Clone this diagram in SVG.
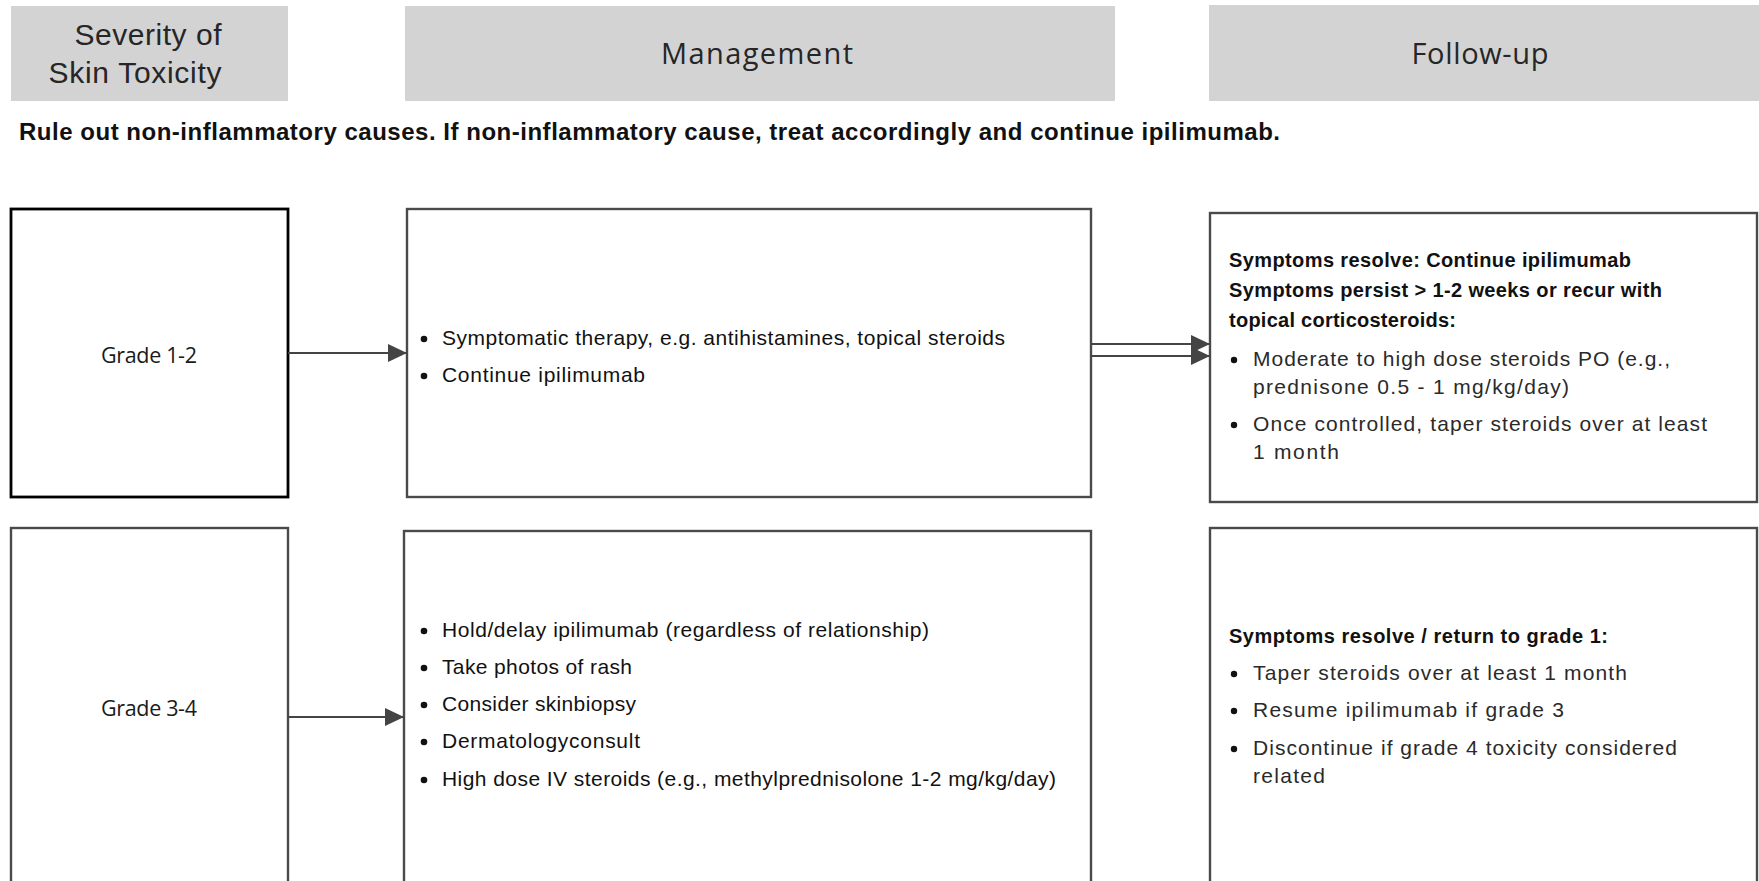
<svg xmlns="http://www.w3.org/2000/svg" width="1759" height="881" viewBox="0 0 1759 881">
  <style>
    .hdr { fill: #d3d3d3; }
    .hdr-txt { font-family: "Open Sans", "Liberation Sans", sans-serif; font-size: 29px; fill: #262626; text-anchor: middle; }
    .hdr-txt2 { font-family: "Liberation Sans", Arial, sans-serif; font-size: 30px; fill: #262626; text-anchor: middle; }
    .box { fill: #ffffff; stroke: #4a4a4a; stroke-width: 2.4; }
    .box-dark { fill: #ffffff; stroke: #000000; stroke-width: 2.8; }
    .grade { font-family: "Open Sans", "Liberation Sans", sans-serif; font-size: 21.5px; fill: #1a1a1a; text-anchor: middle; }
    .item { font-family: "Liberation Sans", Arial, sans-serif; font-size: 21px; fill: #111111; }
    .fitem { font-family: "Liberation Sans", Arial, sans-serif; font-size: 21px; fill: #2a2a2a; }
    .bold { font-family: "Liberation Sans", Arial, sans-serif; font-size: 20px; font-weight: bold; fill: #111111; }
    .note { font-family: "Liberation Sans", Arial, sans-serif; font-size: 24px; font-weight: bold; fill: #111111; }
    .dot { fill: #111111; }
    .link { stroke: #444444; stroke-width: 2.2; fill: none; marker-end: url(#arrow); }
  </style>
  <defs>
    <marker id="arrow" markerUnits="userSpaceOnUse" markerWidth="20" markerHeight="20" refX="19" refY="9" orient="auto">
      <path d="M0,0 L19,9 L0,18 Z" fill="#444444"/>
    </marker>
  </defs>

  <rect width="1759" height="881" fill="#ffffff"/>

  <!-- column headers -->
  <g id="header-severity">
    <rect class="hdr" x="11" y="6" width="277" height="95"/>
    <text class="hdr-txt2" x="148" y="45" textLength="147">Severity of</text>
    <text class="hdr-txt2" x="135" y="83" textLength="173">Skin Toxicity</text>
  </g>
  <g id="header-management">
    <rect class="hdr" x="405" y="6" width="710" height="95"/>
    <text class="hdr-txt" x="757" y="64" textLength="192">Management</text>
  </g>
  <g id="header-followup">
    <rect class="hdr" x="1209" y="5" width="550" height="96"/>
    <text class="hdr-txt" x="1480" y="64" textLength="137">Follow-up</text>
  </g>

  <g id="note">
    <text class="note" x="19" y="140" textLength="1261">Rule out non-inflammatory causes. If non-inflammatory cause, treat accordingly and continue ipilimumab.</text>
  </g>

  <!-- row 1: grade 1-2 -->
  <g id="grade-1-2">
    <rect class="box-dark" x="11" y="209" width="277" height="288"/>
    <text class="grade" x="149" y="363" textLength="96">Grade 1-2</text>
  </g>
  <g id="management-1-2">
    <rect class="box" x="407" y="209" width="684" height="288"/>
    <circle class="dot" cx="424" cy="339" r="3.3"/>
    <text class="item" x="442" y="345" textLength="563">Symptomatic therapy, e.g. antihistamines, topical steroids</text>
    <circle class="dot" cx="424" cy="376" r="3.3"/>
    <text class="item" x="442" y="382" textLength="203">Continue ipilimumab</text>
  </g>
  <g id="followup-1-2">
    <rect class="box" x="1210" y="213" width="547" height="289"/>
    <text class="bold" x="1229" y="267" textLength="402">Symptoms resolve: Continue ipilimumab</text>
    <text class="bold" x="1229" y="297" textLength="433">Symptoms persist &gt; 1-2 weeks or recur with</text>
    <text class="bold" x="1229" y="327" textLength="227">topical corticosteroids:</text>
    <circle class="dot" cx="1234" cy="360" r="3.2"/>
    <text class="fitem" x="1253" y="366" textLength="417">Moderate to high dose steroids PO (e.g.,</text>
    <text class="fitem" x="1253" y="394" textLength="316">prednisone 0.5 - 1 mg/kg/day)</text>
    <circle class="dot" cx="1234" cy="425" r="3.2"/>
    <text class="fitem" x="1253" y="431" textLength="454">Once controlled, taper steroids over at least</text>
    <text class="fitem" x="1253" y="459" textLength="86">1 month</text>
  </g>

  <!-- row 2: grade 3-4 -->
  <g id="grade-3-4">
    <rect class="box" x="11" y="528" width="277" height="400"/>
    <text class="grade" x="149" y="716" textLength="96">Grade 3-4</text>
  </g>
  <g id="management-3-4">
    <rect class="box" x="404" y="531" width="687" height="400"/>
    <circle class="dot" cx="424" cy="631" r="3.3"/>
    <text class="item" x="442" y="637" textLength="487">Hold/delay ipilimumab (regardless of relationship)</text>
    <circle class="dot" cx="424" cy="668" r="3.3"/>
    <text class="item" x="442" y="674" textLength="190">Take photos of rash</text>
    <circle class="dot" cx="424" cy="705" r="3.3"/>
    <text class="item" x="442" y="711" textLength="194">Consider skinbiopsy</text>
    <circle class="dot" cx="424" cy="742" r="3.3"/>
    <text class="item" x="442" y="748" textLength="198">Dermatologyconsult</text>
    <circle class="dot" cx="424" cy="780" r="3.3"/>
    <text class="item" x="442" y="786" textLength="614">High dose IV steroids (e.g., methylprednisolone 1-2 mg/kg/day)</text>
  </g>
  <g id="followup-3-4">
    <rect class="box" x="1210" y="528" width="547" height="400"/>
    <text class="bold" x="1229" y="643" textLength="379">Symptoms resolve / return to grade 1:</text>
    <circle class="dot" cx="1234" cy="674" r="3.2"/>
    <text class="fitem" x="1253" y="680" textLength="374">Taper steroids over at least 1 month</text>
    <circle class="dot" cx="1234" cy="711" r="3.2"/>
    <text class="fitem" x="1253" y="717" textLength="311">Resume ipilimumab if grade 3</text>
    <circle class="dot" cx="1234" cy="749" r="3.2"/>
    <text class="fitem" x="1253" y="755" textLength="424">Discontinue if grade 4 toxicity considered</text>
    <text class="fitem" x="1253" y="783" textLength="72">related</text>
  </g>

  <!-- connectors -->
  <g id="connectors">
    <line class="link" x1="288" y1="353" x2="407" y2="353"/>
    <line class="link" x1="1091" y1="344" x2="1210" y2="344"/>
    <line class="link" x1="1091" y1="356" x2="1210" y2="356"/>
    <line class="link" x1="288" y1="717" x2="404" y2="717"/>
  </g>
</svg>
